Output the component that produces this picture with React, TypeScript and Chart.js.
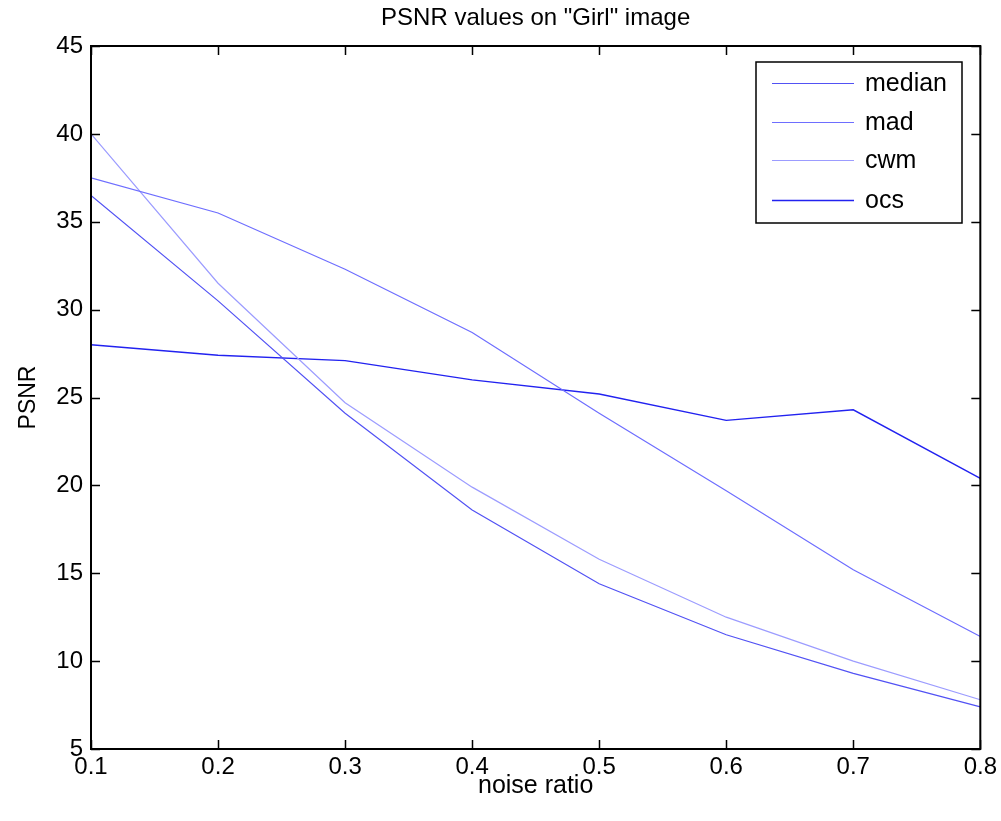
import React, { useEffect, useRef } from "react";
import { Chart, registerables } from "chart.js";

Chart.register(...registerables);

const noiseRatio = [0.1, 0.2, 0.3, 0.4, 0.5, 0.6, 0.7, 0.8];
const medianPSNR = [36.5, 30.5, 24.1, 18.6, 14.4, 11.5, 9.3, 7.4];
const madPSNR = [37.5, 35.5, 32.3, 28.7, 24.1, 19.7, 15.2, 11.4];
const cwmPSNR = [40.0, 31.5, 24.7, 19.9, 15.8, 12.5, 10.0, 7.8];
const ocsPSNR = [28.0, 27.4, 27.1, 26.0, 25.2, 23.7, 24.3, 20.4];
const seriesNames = ["median", "mad", "cwm", "ocs"];
const seriesColors = ["#5252f4", "#6e6eff", "#9c9cff", "#2222f0"];
const titleText = 'PSNR values on "Girl" image';
const xTitle = "noise ratio";
const yTitle = "PSNR";

const FONT = "'Liberation Sans', Arial, sans-serif";

const matlabPlugin = {
  id: "matlabDecor",
  afterDatasetsDraw(chart: any) {
    const { ctx, chartArea } = chart;
    const { left, right, top, bottom } = chartArea;
    const xs = chart.scales.x;
    const ys = chart.scales.y;
    ctx.save();
    // inward ticks
    ctx.strokeStyle = "#000";
    ctx.lineWidth = 1.5;
    const tl = 9;
    ctx.beginPath();
    xs.ticks.forEach((t: any) => {
      const px = Math.round(xs.getPixelForValue(t.value)) + 0.5;
      ctx.moveTo(px, bottom);
      ctx.lineTo(px, bottom - tl);
      ctx.moveTo(px, top);
      ctx.lineTo(px, top + tl);
    });
    ys.ticks.forEach((t: any) => {
      const py = Math.round(ys.getPixelForValue(t.value)) + 0.5;
      ctx.moveTo(left, py);
      ctx.lineTo(left + tl, py);
      ctx.moveTo(right, py);
      ctx.lineTo(right - tl, py);
    });
    ctx.stroke();
    // box
    ctx.lineWidth = 2;
    ctx.strokeRect(left, top, right - left, bottom - top);

    // legend box
    const lx0 = 756, ly0 = 62, lx1 = 962, ly1 = 223;
    ctx.fillStyle = "#fff";
    ctx.fillRect(lx0, ly0, lx1 - lx0, ly1 - ly0);
    ctx.lineWidth = 1.5;
    ctx.strokeStyle = "#000";
    ctx.strokeRect(lx0, ly0, lx1 - lx0, ly1 - ly0);
    const rows = [83, 122, 160, 200];
    ctx.font = `25px ${FONT}`;
    ctx.textBaseline = "middle";
    ctx.textAlign = "left";
    chart.data.datasets.forEach((ds: any, i: number) => {
      const y = rows[i] + 0.5;
      ctx.strokeStyle = ds.borderColor;
      ctx.lineWidth = i === 3 ? 1.5 : 1.2;
      ctx.beginPath();
      ctx.moveTo(772, y);
      ctx.lineTo(854, y);
      ctx.stroke();
      ctx.fillStyle = "#000";
      ctx.fillText(ds.label, 865, rows[i] + 1);
    });

    // title
    ctx.font = `24px ${FONT}`;
    ctx.textAlign = "center";
    ctx.textBaseline = "middle";
    ctx.fillStyle = "#000";
    ctx.fillText(titleText, (left + right) / 2, 18);
    ctx.restore();
  },
};

export default function App() {
  const ref = useRef<HTMLCanvasElement | null>(null);
  useEffect(() => {
    if (!ref.current) return;
    const mk = (vals: number[]) => noiseRatio.map((x, i) => ({ x, y: vals[i] }));
    const allVals = [medianPSNR, madPSNR, cwmPSNR, ocsPSNR];
    const chart = new Chart(ref.current, {
      type: "line",
      data: {
        datasets: allVals.map((v, i) => ({
          label: seriesNames[i],
          data: mk(v),
          borderColor: seriesColors[i],
          backgroundColor: seriesColors[i],
          borderWidth: i === 3 ? 1.4 : 1.2,
          pointRadius: 0,
          tension: 0,
          fill: false,
        })),
      },
      options: {
        animation: false,
        responsive: false,
        devicePixelRatio: 1,
        layout: { padding: { top: 46, right: 19, left: 0, bottom: 0 } },
        plugins: { legend: { display: false }, title: { display: false }, tooltip: { enabled: false } },
        scales: {
          x: {
            type: "linear",
            min: 0.1,
            max: 0.8,
            grid: { display: false, drawTicks: false },
            border: { display: false },
            ticks: {
              stepSize: 0.1,
              padding: 4,
              color: "#000",
              font: { family: FONT, size: 24 },
              maxRotation: 0,
              callback: (v: any) => Number(v).toFixed(1),
            },
            title: {
              display: true,
              text: xTitle,
              color: "#000",
              font: { family: FONT, size: 25 },
              padding: { top: 0, bottom: 20 },
            },
            afterFit: (s: any) => {
              s.height = 72;
            },
          },
          y: {
            type: "linear",
            min: 5,
            max: 45,
            grid: { display: false, drawTicks: false },
            border: { display: false },
            ticks: {
              stepSize: 5,
              padding: 8,
              color: "#000",
              font: { family: FONT, size: 24 },
            },
            title: {
              display: true,
              text: yTitle,
              color: "#000",
              font: { family: FONT, size: 23 },
              padding: { top: 15, bottom: 0 },
            },
            afterFit: (s: any) => {
              s.width = 91;
            },
          },
        },
      },
      plugins: [matlabPlugin],
    });
    return () => chart.destroy();
  }, []);
  return (
    <div style={{ position: "absolute", left: 0, top: 0, width: 1001, height: 821, background: "#fff" }}>
      <canvas ref={ref} width={1001} height={821} style={{ display: "block" }} />
    </div>
  );
}
